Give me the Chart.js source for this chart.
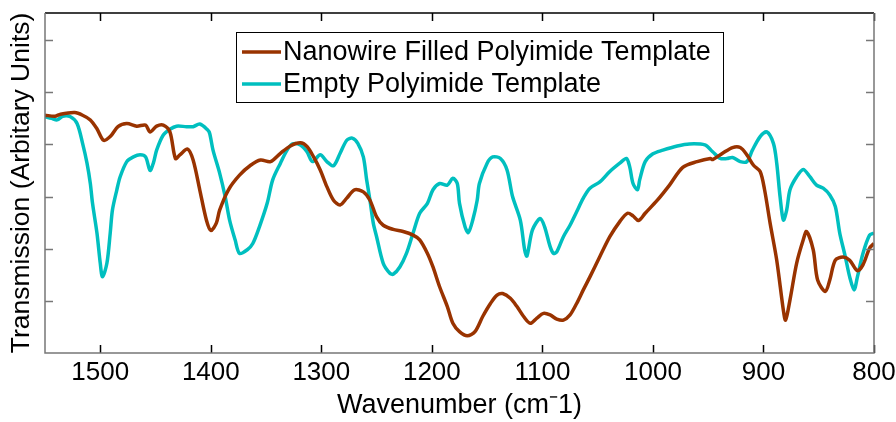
<!DOCTYPE html>
<html>
<head>
<meta charset="utf-8">
<script src="https://cdn.jsdelivr.net/npm/chart.js@4/dist/chart.umd.min.js"></script>
<style>
  html, body { margin: 0; padding: 0; background: #fff; }
  #wrap { width: 896px; height: 422px; }
</style>
</head>
<body>
<div id="wrap"><canvas id="ftir"></canvas></div>
<script>
// wavenumber (cm-1) / transmission
var nanoX = [1550,1541,1536,1523,1516,1509,1503,1497,1491,1484,1476,1467,1459,1455,1449,1443,1437,1432,1428,1421,1416,1410,1404,1400,1395,1392,1384,1374,1364,1355,1346,1337,1328,1319,1313,1307,1301,1295,1289,1283,1277,1270,1262,1256,1250,1244,1235,1226,1217,1211,1204,1199,1193,1186,1181,1175,1168,1161,1154,1147,1141,1136,1129,1123,1117,1111,1105,1099,1093,1087,1081,1075,1069,1063,1057,1048,1039,1030,1023,1018,1013,1007,996,985,973,960,948,946,937,928,921,915,909,903,899,894,888,882,880,876,870,864,861,855,851,844,840,835,828,822,815,810,804,800];
var nanoY = [4.56,4.54,4.58,4.61,4.56,4.47,4.30,4.08,4.15,4.34,4.40,4.35,4.37,4.24,4.35,4.37,4.24,3.73,3.80,3.91,3.70,3.13,2.55,2.35,2.49,2.74,3.13,3.41,3.60,3.70,3.67,3.83,3.97,4.03,3.96,3.76,3.51,3.19,2.93,2.84,2.97,3.13,3.09,2.93,2.61,2.45,2.37,2.33,2.26,2.17,1.91,1.65,1.27,0.89,0.57,0.41,0.33,0.41,0.70,0.95,1.11,1.14,1.05,0.89,0.70,0.57,0.67,0.76,0.73,0.65,0.63,0.73,0.95,1.21,1.46,1.85,2.23,2.52,2.68,2.63,2.54,2.68,2.93,3.22,3.56,3.67,3.73,3.71,3.83,3.94,3.94,3.80,3.60,3.48,3.13,2.49,1.78,0.82,0.63,1.02,1.72,2.17,2.33,1.98,1.40,1.18,1.40,1.78,1.84,1.78,1.58,1.69,2.01,2.10];

var emptyX = [1550,1544,1539,1534,1527,1521,1516,1512,1509,1507,1503,1500,1498,1494,1491,1489,1485,1482,1476,1470,1464,1459,1455,1452,1449,1443,1437,1431,1422,1416,1410,1403,1401,1398,1392,1387,1383,1378,1374,1367,1362,1356,1349,1344,1337,1331,1326,1319,1313,1308,1301,1295,1289,1283,1277,1272,1267,1262,1259,1256,1253,1250,1244,1238,1235,1229,1223,1217,1211,1204,1199,1193,1186,1181,1177,1175,1170,1167,1163,1159,1157,1150,1145,1138,1132,1127,1120,1116,1114,1109,1102,1098,1093,1090,1087,1081,1075,1069,1063,1057,1048,1039,1030,1024,1021,1018,1014,1012,1007,1000,991,978,967,953,946,939,933,928,921,915,910,903,897,891,888,885,882,879,876,870,864,858,852,846,840,835,831,826,822,818,815,810,804,800];
var emptyY = [4.53,4.50,4.47,4.54,4.53,4.40,4.02,3.64,3.25,2.87,2.30,1.72,1.46,1.72,2.30,2.74,3.13,3.38,3.67,3.76,3.80,3.76,3.50,3.64,3.89,4.18,4.29,4.35,4.34,4.34,4.39,4.28,4.21,3.89,3.45,3.00,2.55,2.17,1.91,1.98,2.10,2.42,2.87,3.32,3.64,3.89,4.01,3.99,3.86,3.67,3.80,3.67,3.59,3.83,4.08,4.12,4.02,3.76,3.32,2.93,2.49,2.23,1.72,1.53,1.51,1.65,1.91,2.30,2.68,2.87,3.13,3.25,3.22,3.35,3.25,2.87,2.42,2.31,2.55,2.93,3.25,3.64,3.76,3.73,3.51,3.00,2.55,1.97,1.86,2.36,2.58,2.42,2.04,1.91,1.94,2.23,2.45,2.71,2.97,3.16,3.28,3.48,3.64,3.73,3.57,3.25,3.13,3.32,3.67,3.82,3.89,3.97,4.01,3.99,3.86,3.73,3.73,3.75,3.67,3.67,3.89,4.15,4.24,4.02,3.64,3.00,2.55,2.74,3.13,3.38,3.52,3.38,3.22,3.16,3.03,2.81,2.30,1.85,1.46,1.21,1.46,1.91,2.26,2.30];

var xTicks = [1500,1400,1300,1200,1100,1000,900,800];
var yTicks = [1,2,3,4,5,6];

var labels = ['Nanowire Filled Polyimide Template', 'Empty Polyimide Template'];
var colors = ['#993300', '#00bfbf'];

function toPoints(xs, ys){
    var pts = [];
    for (var i = 0; i < xs.length; i++) pts.push({x: xs[i], y: ys[i]});
    return pts;
}

var FONT = 'Arial, "Liberation Sans", sans-serif';

// box round the plot, with inward ticks on all four sides
var frame = {
    id: 'frame',
    afterDraw: function(chart){
        var ctx = chart.ctx, a = chart.chartArea;
        var xs = chart.scales.x, ys = chart.scales.y;
        ctx.save();
        ctx.lineWidth = 1.5;
        ctx.strokeStyle = '#000';
        ctx.beginPath();
        ctx.moveTo(a.left, a.top); ctx.lineTo(a.right, a.top);
        xTicks.forEach(function(v){
            var px = Math.round(xs.getPixelForValue(v)) + 0.5;
            ctx.moveTo(px, a.top); ctx.lineTo(px, a.top + 8);
            ctx.moveTo(px, a.bottom); ctx.lineTo(px, a.bottom - 8);
        });
        ctx.stroke();
        ctx.strokeStyle = '#777';
        ctx.beginPath();
        ctx.moveTo(a.left, a.top); ctx.lineTo(a.left, a.bottom); ctx.lineTo(a.right, a.bottom); ctx.lineTo(a.right, a.top);
        yTicks.forEach(function(v){
            var py = Math.round(ys.getPixelForValue(v)) + 0.5;
            ctx.moveTo(a.left, py); ctx.lineTo(a.left + 8, py);
            ctx.moveTo(a.right, py); ctx.lineTo(a.right - 8, py);
        });
        ctx.stroke();
        ctx.restore();
    }
};

// legend box inside the plot
var legendBox = {
    id: 'legendBox',
    afterDraw: function(chart){
        var ctx = chart.ctx;
        var x0 = 236, y0 = 32, w = 487, h = 70;
        ctx.save();
        ctx.fillStyle = '#fff';
        ctx.fillRect(x0, y0, w, h);
        ctx.strokeStyle = '#000';
        ctx.lineWidth = 1;
        ctx.strokeRect(x0 + 0.5, y0 + 0.5, w, h);
        ctx.font = '27px ' + FONT;
        ctx.textBaseline = 'middle';
        chart.data.datasets.forEach(function(ds, i){
            var yy = y0 + 20 + i * 32;
            ctx.strokeStyle = ds.borderColor;
            ctx.lineWidth = 3.5;
            ctx.beginPath();
            ctx.moveTo(x0 + 6, yy); ctx.lineTo(x0 + 45, yy);
            ctx.stroke();
            ctx.fillStyle = '#000';
            ctx.fillText(ds.label, x0 + 47, yy + 1);
        });
        ctx.restore();
    }
};

new Chart(document.getElementById('ftir'), {
    type: 'line',
    data: {
        datasets: [{
            label: labels[0],
            data: toPoints(nanoX, nanoY),
            borderColor: colors[0],
            borderWidth: 3.5,
            pointRadius: 0,
            tension: 0.3
        }, {
            label: labels[1],
            data: toPoints(emptyX, emptyY),
            borderColor: colors[1],
            borderWidth: 3.5,
            pointRadius: 0,
            tension: 0.3
        }]
    },
    options: {
        responsive: true,
        maintainAspectRatio: false,
        animation: false,
        layout: { padding: { left: 0, right: 22, top: 13, bottom: 0 } },
        plugins: { legend: { display: false }, tooltip: { enabled: false } },
        scales: {
            x: {
                type: 'linear',
                reverse: true,
                min: 800,
                max: 1550,
                afterBuildTicks: function(s){ s.ticks = xTicks.map(function(v){ return {value: v}; }); },
                afterFit: function(s){ s.height = 69; s.paddingLeft = 0; s.paddingRight = 0; },
                grid: { display: false, drawTicks: false },
                border: { display: false },
                ticks: {
                    color: '#000', padding: 4, maxRotation: 0, autoSkip: false,
                    font: { family: FONT, size: 26 },
                    callback: function(v){ return String(v); }
                },
                title: { display: true, text: 'Wavenumber (cm⁻1)', color: '#000', padding: { top: 0, bottom: 0 }, font: { family: FONT, size: 27 } }
            },
            y: {
                min: 0,
                max: 6.52,
                afterBuildTicks: function(s){ s.ticks = yTicks.map(function(v){ return {value: v}; }); },
                afterFit: function(s){ s.width = 45; },
                grid: { display: false, drawTicks: false },
                border: { display: false },
                ticks: { display: false },
                title: { display: true, text: 'Transmission (Arbitary Units)', color: '#000', padding: { top: 6, bottom: 0 }, font: { family: FONT, size: 26.5 } }
            }
        }
    },
    plugins: [frame, legendBox]
});
</script>
</body>
</html>
